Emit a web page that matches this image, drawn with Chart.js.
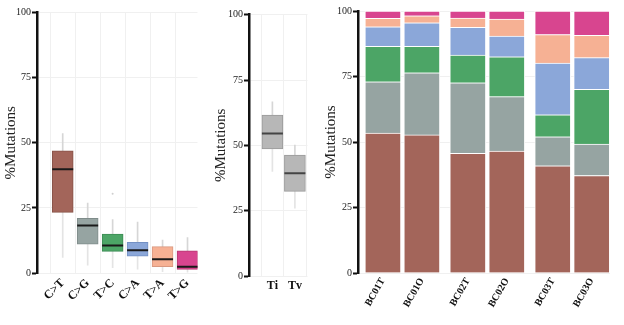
<!DOCTYPE html>
<html>
<head>
<meta charset="utf-8">
<script src="https://cdn.jsdelivr.net/npm/chart.js@4.4.1/dist/chart.umd.min.js"></script>
<style>
  html, body { margin: 0; padding: 0; background: #fff; }
  #wrap { position: relative; width: 624px; height: 325px; }
  canvas { position: absolute; top: 0; }
</style>
</head>
<body>
<div id="wrap">
  <canvas id="boxChart" width="210" height="325" style="left:0"></canvas>
  <canvas id="titvChart" width="110" height="325" style="left:210px"></canvas>
  <canvas id="stackChart" width="304" height="325" style="left:320px"></canvas>
</div>
<script>
// substitution types (left panel)
const mutTypes = ['C>T', 'C>G', 'T>C', 'C>A', 'T>A', 'T>G'];
const mutLow = [6, 3, 2, 1.5, 0.5, 0.3];
const mutQ1 = [23.3, 11.1, 8.3, 6.5, 2.4, 1.4];
const mutMedian = [39.8, 18.2, 10.6, 8.7, 5.3, 2.4];
const mutQ3 = [46.9, 21.0, 14.9, 11.8, 10.1, 8.5];
const mutHigh = [53.5, 26.8, 20.5, 19.5, 12.6, 13.6];
const mutOutlierType = ['T>C'];
const mutOutlierValue = [30.4];

// transitions / transversions (middle panel)
const tiTv = ['Ti', 'Tv'];
const tiTvLow = [40, 26];
const tiTvQ1 = [48.6, 32.4];
const tiTvMedian = [54.5, 39.3];
const tiTvQ3 = [61.6, 46.3];
const tiTvHigh = [66.7, 50.1];

// per-sample spectrum (right panel)
const samples = ['BC01T', 'BC01O', 'BC02T', 'BC02O', 'BC03T', 'BC03O'];
const sampleCT = [53.4, 52.7, 45.7, 46.5, 40.9, 37.2];
const sampleCG = [19.6, 23.7, 26.9, 20.8, 11.1, 12.0];
const sampleTC = [13.5, 10.1, 10.6, 15.2, 8.4, 20.9];
const sampleCA = [7.5, 9.0, 10.6, 7.9, 19.7, 12.1];
const sampleTA = [3.2, 2.7, 3.5, 6.5, 10.9, 8.5];
const sampleTG = [2.8, 1.8, 2.7, 3.1, 9.0, 9.3];

const yTicks = [0, 25, 50, 75, 100];

const colors = ['#a3655a', '#96a4a2', '#4ca566', '#8ba7d9', '#f6b194', '#d8458f'];
const borders = ['#875348', '#7f8c8a', '#3d8c55', '#7390c4', '#d99880', '#b5386f'];
const serif = "'Liberation Serif', 'Times New Roman', serif";
const faint = '#f0f0f0';

function yAxis(width) {
  return {
    min: 0, max: 100,
    afterBuildTicks: s => { s.ticks = yTicks.map(v => ({ value: v })); },
    afterFit: s => { s.width = width; },
    title: { display: true, text: '%Mutations', font: { family: serif, size: 15 }, color: '#222', padding: { top: 2, bottom: 0 } },
    ticks: { font: { family: serif, size: 10 }, color: '#222', padding: 1 },
    grid: { color: faint, tickColor: '#111', tickLength: 5, tickWidth: 2 },
    border: { color: '#111', width: 2.5 }
  };
}

function xAxis(labels, pos, min, max, height, rot, font, gridOn) {
  return {
    type: 'linear', min: min, max: max, offset: false,
    afterBuildTicks: s => { s.ticks = pos.map(v => ({ value: v })); },
    afterFit: s => { s.height = height; },
    ticks: {
      callback: (v, i) => labels[i],
      minRotation: rot, maxRotation: rot, autoSkip: false,
      font: font, color: '#111', padding: 3
    },
    grid: { display: gridOn, color: faint, drawTicks: false },
    border: { display: false }
  };
}

function boxDatasets(cats, low, q1, med, q3, high, fill, edge, medColor, width) {
  const idx = cats.map((c, i) => i);
  return [
    {
      type: 'line', showLine: false, order: 0,
      data: idx.map(i => ({ x: i, y: med[i] })),
      pointStyle: 'line', pointRadius: width / 2, pointBorderWidth: 2,
      pointBorderColor: medColor, pointHoverRadius: width / 2
    },
    {
      type: 'bar', order: 1, grouped: false, barThickness: width,
      data: idx.map(i => ({ x: i, y: [q1[i], q3[i]] })),
      backgroundColor: fill, borderColor: edge, borderWidth: 1, borderSkipped: false
    },
    {
      type: 'bar', order: 2, grouped: false, barThickness: 1,
      data: idx.map(i => ({ x: i, y: [q3[i], high[i]] })),
      backgroundColor: '#d6d6d6'
    },
    {
      type: 'bar', order: 2, grouped: false, barThickness: 1,
      data: idx.map(i => ({ x: i, y: [low[i], q1[i]] })),
      backgroundColor: '#e4e4e4'
    }
  ];
}

const common = {
  responsive: false,
  animation: false,
  plugins: { legend: { display: false }, tooltip: { enabled: false } }
};

// 1. substitution boxplot
const leftSets = boxDatasets(mutTypes, mutLow, mutQ1, mutMedian, mutQ3, mutHigh,
  colors, borders, '#1a1a1a', 21);
leftSets.push({
  type: 'line', showLine: false, order: 0,
  data: mutOutlierType.map((t, k) => ({ x: mutTypes.indexOf(t), y: mutOutlierValue[k] })),
  pointRadius: 1, pointBackgroundColor: '#cfcfcf', pointBorderWidth: 0
});
new Chart(document.getElementById('boxChart'), {
  type: 'bar',
  data: { datasets: leftSets },
  options: Object.assign({}, common, {
    layout: { padding: { top: 11, right: 5, left: 0, bottom: 0 } },
    scales: {
      x: xAxis(mutTypes, mutTypes.map((c, i) => i), -1.03, 5.4, 52, 45,
        { family: serif, size: 12, weight: 'bold' }, true),
      y: yAxis(37)
    }
  })
});

// 2. Ti / Tv boxplot
new Chart(document.getElementById('titvChart'), {
  type: 'bar',
  data: {
    datasets: boxDatasets(tiTv, tiTvLow, tiTvQ1, tiTvMedian, tiTvQ3, tiTvHigh,
      '#b7b7b7', '#9a9a9a', '#444', 21)
  },
  options: Object.assign({}, common, {
    layout: { padding: { top: 14.7, right: 4, left: 0, bottom: 0 } },
    scales: {
      x: xAxis(tiTv, [0, 1], -1.04, 1.56, 49, 0,
        { family: serif, size: 12, weight: 'bold' }, true),
      y: yAxis(39)
    }
  })
});

// 3. stacked spectrum per sample, samples paired by patient
const pairGap = 0.18;
const samplePos = samples.map((s, i) => i + Math.floor(i / 2) * pairGap);
const layers = [sampleCT, sampleCG, sampleTC, sampleCA, sampleTA, sampleTG];
new Chart(document.getElementById('stackChart'), {
  type: 'bar',
  data: {
    datasets: layers.map((vals, k) => ({
      label: mutTypes[k],
      data: vals.map((v, i) => ({ x: samplePos[i], y: v })),
      backgroundColor: colors[k],
      borderColor: '#fff', borderWidth: 1, borderSkipped: 'bottom',
      barThickness: 36
    }))
  },
  options: Object.assign({}, common, {
    layout: { padding: { top: 11, right: 14, left: 0, bottom: 0 } },
    scales: {
      x: Object.assign(xAxis(samples, samplePos, -0.64, 5.83, 52, 60,
        { family: serif, size: 10, weight: 'bold' }, false), { stacked: true }),
      y: Object.assign(yAxis(38), { stacked: true })
    }
  })
});
</script>
</body>
</html>
